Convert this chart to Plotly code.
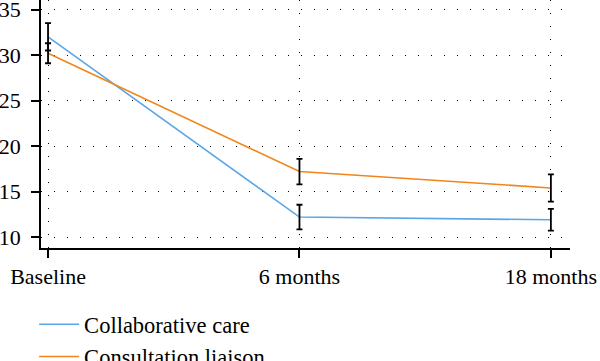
import plotly.graph_objects as go

categories = ["Baseline", "6 months", "18 months"]
collab_vals = [32.0, 12.2, 11.9]
collab_err = [1.5, 1.35, 1.2]
consult_vals = [30.2, 17.2, 15.4]
consult_err = [1.1, 1.4, 1.5]
y_ticks = [10, 15, 20, 25, 30, 35]

blue = "#5AA6E6"
orange = "#F0861A"
font_family = "Liberation Serif"

fig = go.Figure()
x_idx = list(range(len(categories)))

for name, vals, err, col in [("Collaborative care", collab_vals, collab_err, blue),
                              ("Consultation liaison", consult_vals, consult_err, orange)]:
    fig.add_trace(go.Scatter(x=x_idx, y=vals, mode="lines", name=name,
                             line=dict(color=col, width=1.6)))
for vals, err in [(collab_vals, collab_err), (consult_vals, consult_err)]:
    fig.add_trace(go.Scatter(x=x_idx, y=vals, mode="markers", showlegend=False,
                             marker=dict(size=1, opacity=0),
                             error_y=dict(type="data", array=err, color="black",
                                          thickness=1.8, width=3),
                             hoverinfo="skip"))

tickfont = dict(family=font_family, size=22, color="black")
legendfont = dict(family=font_family, size=22.5, color="black")

fig.update_layout(
    template="none",
    width=600, height=361, autosize=False,
    margin=dict(l=41, r=30, t=0, b=113, pad=0, autoexpand=False),
    paper_bgcolor="white", plot_bgcolor="white",
    font=dict(family=font_family, size=22, color="black"),
    showlegend=True,
    legend=dict(x=-0.013, y=-0.222, xanchor="left", yanchor="top",
                orientation="v", font=legendfont, tracegroupgap=0,
                itemwidth=40, bgcolor="rgba(0,0,0,0)"),
    xaxis=dict(range=[-0.028, 2.076], tickmode="array", tickvals=x_idx,
               ticktext=categories, showline=True, linecolor="black", linewidth=1.5,
               ticks="outside", ticklen=8, tickwidth=1.5, tickcolor="black",
               tickfont=tickfont, automargin=False, ticklabeloverflow="allow",
               showgrid=True, gridcolor="black", gridwidth=1.2, griddash="1px,12px",
               zeroline=False),
    yaxis=dict(range=[8.8, 36.05], tickvals=y_ticks, showline=True, linecolor="black",
               linewidth=1.5, ticks="outside", ticklen=8, tickwidth=1.5, tickcolor="black",
               tickfont=tickfont, automargin=False, ticklabeloverflow="allow",
               ticklabelstandoff=6,
               showgrid=True, gridcolor="black", gridwidth=1.2, griddash="1px,12px",
               zeroline=False),
)

fig.write_html("out.html", config={"displayModeBar": False},
               post_script="document.body.style.margin='0';document.body.style.overflow='hidden';")
